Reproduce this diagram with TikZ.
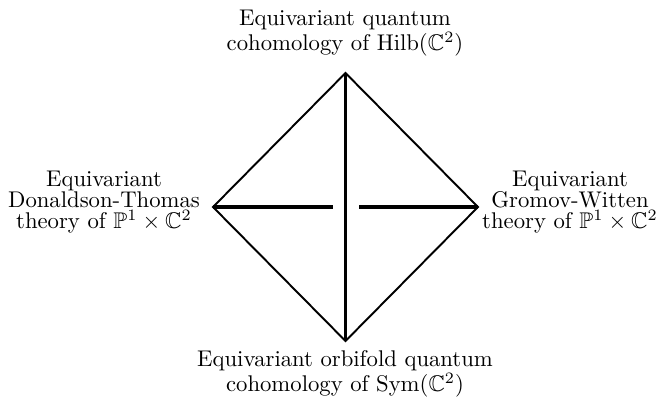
\documentclass[tikz,border=0pt]{standalone}
\usepackage{amssymb}
\begin{document}
\begin{tikzpicture}[x=0.4405pt,y=-0.4405pt,
  lab/.style={align=center,inner sep=0pt,font=\fontsize{10}{9.4}\selectfont},
  edge/.style={line width=0.85pt},
  axis/.style={line width=1.5pt}]
\useasboundingbox (0,0) rectangle (660,407);
\coordinate (T) at (345.5,73);
\coordinate (B) at (345.5,341);
\coordinate (L) at (213,207);
\coordinate (R) at (478,207);
\coordinate (Lg) at (332.5,207);
\coordinate (Rg) at (359,207);
\draw[edge] (T) -- (L) -- (B) -- (R) -- cycle;
\draw[axis] (T) -- (B);
\draw[axis] (L) -- (Lg);
\draw[axis] (Rg) -- (R);
\node[lab] (top) at (345,33) {Equivariant quantum\\cohomology of $\mathrm{Hilb}(\mathbb{C}^2)$};
\node[lab] (bot) at (345,374) {Equivariant orbifold quantum\\cohomology of $\mathrm{Sym}(\mathbb{C}^2)$};
\node[lab] (left) at (104,202) {Equivariant\\Donaldson-Thomas\\theory of $\mathbb{P}^1\times\mathbb{C}^2$};
\node[lab] (right) at (570,202) {Equivariant\\Gromov-Witten\\theory of $\mathbb{P}^1\times\mathbb{C}^2$};
\end{tikzpicture}
\end{document}
